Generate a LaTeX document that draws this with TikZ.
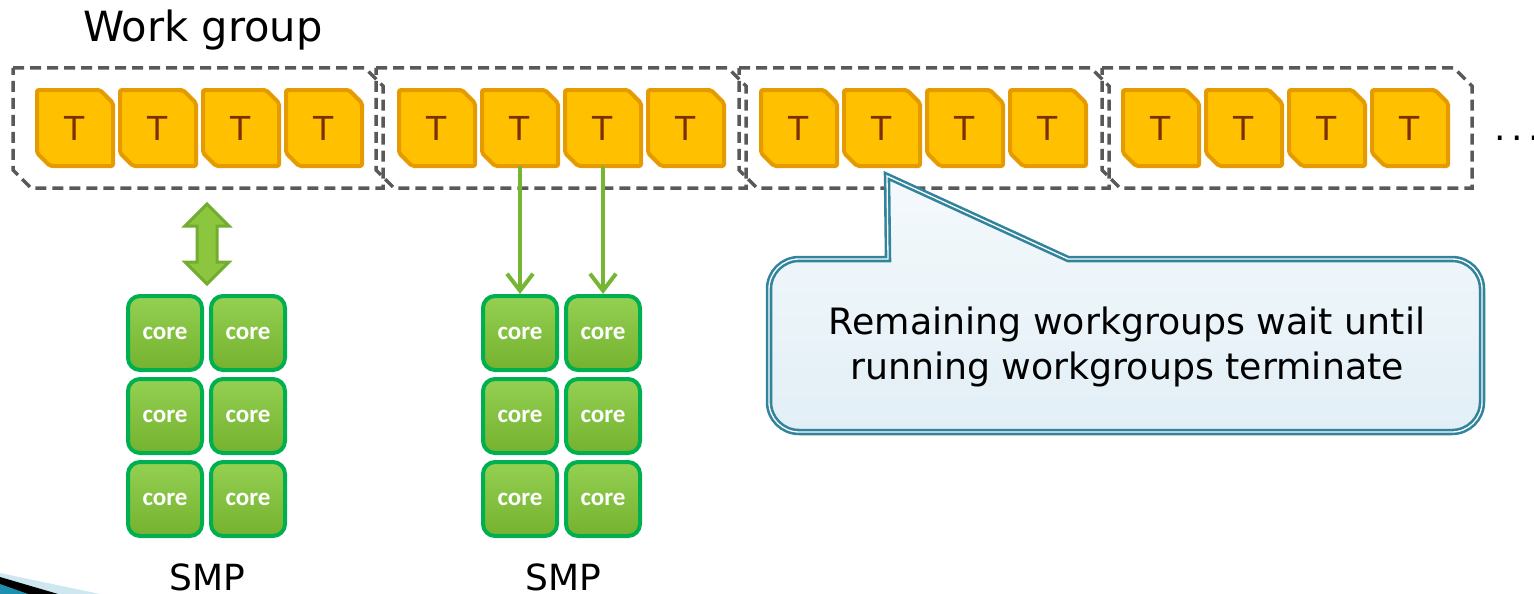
\documentclass[tikz,border=0pt]{standalone}
\usepackage{fontspec}
\setmainfont{DejaVu Sans}
\newfontfamily\corefont{Carlito}
\usetikzlibrary{arrows.meta}

\definecolor{tyellow}{HTML}{FFC000}
\definecolor{torange}{HTML}{E59A00}
\definecolor{tbrown}{HTML}{7A3000}
\definecolor{dashgray}{HTML}{595959}
\definecolor{arrowgreen}{HTML}{77B634}
\definecolor{coreedge}{HTML}{00B050}
\definecolor{corelight}{HTML}{94D052}
\definecolor{coredark}{HTML}{74B22F}
\definecolor{dblfill}{HTML}{8CC63F}
\definecolor{dbledge}{HTML}{72AC30}
\definecolor{calloutedge}{HTML}{31849B}
\definecolor{callouttop}{HTML}{F4F9FC}
\definecolor{calloutbottom}{HTML}{E2EFF6}
\definecolor{swlight}{HTML}{CFE7F0}
\definecolor{swteal}{HTML}{1E8FAE}

\begin{document}
\begin{tikzpicture}[x=1pt,y=-1pt,
  wgroup/.style={draw=dashgray, line width=3.5pt, dash pattern=on 11pt off 6pt},
  tshape/.style={fill=tyellow, draw=torange, line width=4pt, rounded corners=2pt},
  tbox/.style={minimum width=76pt, minimum height=76pt, inner sep=0pt,
    text=tbrown, font=\fontsize{33}{33}\selectfont},
  core/.style={rectangle, rounded corners=12pt,
    minimum width=74pt, minimum height=74pt, inner sep=0pt,
    draw=coreedge, line width=4pt,
    top color=corelight, bottom color=coredark,
    text=white, font=\corefont\bfseries\fontsize{25}{25}\selectfont},
  garrow/.style={draw=arrowgreen, line width=4pt,
    -{Straight Barb[length=17pt,width=26pt,line width=4pt]}},
  dblarrow/.style={fill=dblfill, draw=dbledge, line width=3pt, line join=miter},
  smp/.style={anchor=base, font=\fontsize{36}{36}\selectfont},
  callout/.style={draw=calloutedge, double=white, double distance=1.3pt,
    line width=2.6pt, top color=callouttop, bottom color=calloutbottom}]

\useasboundingbox (0,0) rectangle (1534,594);

% corner swoosh of the slide
\fill[swlight] (0,573) -- (100,594) -- (0,594) -- cycle;
\fill[black] (0,577) -- (58,594) -- (0,594) -- cycle;
\fill[swteal] (0,584) -- (28,594) -- (0,594) -- cycle;

% heading
\node[anchor=base west, inner sep=0pt, font=\fontsize{41.6}{41.6}\selectfont]
  (title) at (83,42) {Work group};

% work groups: dashed outlines with two clipped corners
\foreach \g in {0,...,3}
  \draw[wgroup, shift={({198+363*\g},128)}]
    (-185,-60) -- (167,-60) -- (185,-42) -- (185,60)
    -- (-167,60) -- (-185,42) -- cycle;

% work items
\foreach \g in {0,...,3}
  \foreach \k in {0,...,3} {
    \draw[tshape, shift={({75+362*\g+83*\k},128)}]
      (-38,-38) -- (25,-38) -- (38,-25) -- (38,38)
      -- (-25,38) -- (-38,25) -- cycle;
    \node[tbox] (t\g\k) at ({75+362*\g+83*\k},128) {T};
  }

\node[anchor=base west, inner sep=0pt, font=\fontsize{36}{36}\selectfont]
  (more) at (1494,140) {.\kern5.6pt.\kern5.6pt.};

% two SMPs of 2x3 cores
\foreach \r in {0,1,2}
  \foreach \c in {0,1} {
    \node[core] (cl\r\c) at ({165+83*\c},{333+83*\r}) {core};
    \node[core] (cr\r\c) at ({520+83*\c},{333+83*\r}) {core};
  }
\node[smp] (smp1) at (207,590) {SMP};
\node[smp] (smp2) at (563,590) {SMP};

% scheduling of work items onto cores
\draw[garrow] (t11.south) -- (cr00.north);
\draw[garrow] (t12.south) -- (cr01.north);

% group 0 <-> left SMP
\filldraw[dblarrow, shift={(207,244)}]
  (0,-40) -- (22,-18) -- (10,-18) -- (10,18) -- (22,18) -- (0,40)
  -- (-22,18) -- (-10,18) -- (-10,-18) -- (-22,-18) -- cycle;

% callout
\coordinate (tip) at (887,176);
\draw[callout] (1100,259) [rounded corners=30pt] -- (1482,259) -- (1482,432)
  -- (769,432) -- (769,259) -- (850,259) [sharp corners] -- (888,259)
  -- (tip) -- (1068,259) -- cycle;
\node[align=center, inner sep=0pt, font=\fontsize{36.3}{45}\selectfont]
  (note) at (1127,347) {Remaining workgroups wait until\\running workgroups terminate};

\end{tikzpicture}
\end{document}
